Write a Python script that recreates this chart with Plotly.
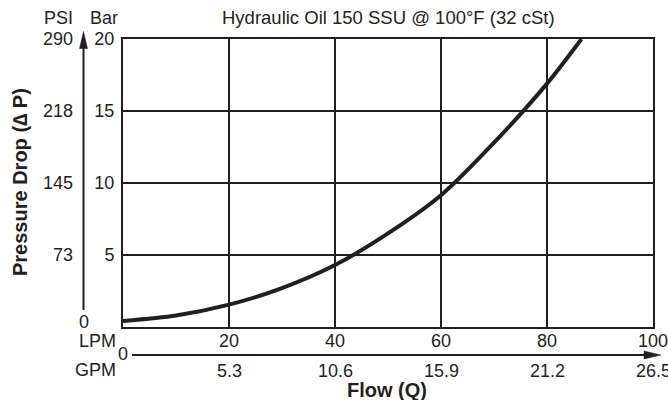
import plotly.graph_objects as go

# ---- data ----
flow_lpm = [0, 10, 20, 30, 40, 50, 60, 70, 80, 86.5]
pressure_bar = [0.42, 0.8, 1.55, 2.7, 4.3, 6.5, 9.15, 12.8, 16.9, 20]

lpm_ticks = [20, 40, 60, 80, 100]
lpm_labels = ["20", "40", "60", "80", "100"]
gpm_labels = ["5.3", "10.6", "15.9", "21.2", "26.5"]
bar_ticks = [5, 10, 15, 20]
bar_labels = ["5", "10", "15", "20"]
psi_labels = ["73", "145", "218", "290"]

title_text = "Hydraulic Oil 150 SSU @ 100°F (32 cSt)"

# ---- layout geometry (pixels) ----
W, H = 668, 400
L, R, T, B = 123, 15, 39, 73
PW, PH = W - L - R, H - T - B
INK = "#231f20"
FONT = "Liberation Sans, Arial, Helvetica, sans-serif"
FS = 18


def px(x):
    return (x - L) / PW


def py(y):
    return (H - B - y) / PH


def label(text, x, y, xanchor="center", size=FS, xref="paper", yref="paper", angle=0):
    return dict(text=text, xref=xref, yref=yref, x=x, y=y, textangle=angle,
                xanchor=xanchor, yanchor="middle", showarrow=False,
                font=dict(size=size, color=INK, family=FONT))


fig = go.Figure()
fig.add_trace(go.Scatter(
    x=flow_lpm, y=pressure_bar, mode="lines",
    line=dict(color=INK, width=4, shape="spline", smoothing=0.8),
    hoverinfo="skip", showlegend=False,
))

annotations = [
    label(title_text, px(388), py(18), size=18.5),
    label("PSI", px(58), py(18)),
    label("Bar", px(104), py(18)),
    label("0", px(84), py(321.5)),
    label("LPM", px(118), py(340.5), xanchor="right"),
    label("GPM", px(118), py(370), xanchor="right"),
    label("0", px(123), py(354)),
    label("<b>Flow (Q)</b>", px(387), py(390), size=20),
    label("<b>Pressure Drop (\u2206 P)</b>", px(20), py(182), size=20, angle=-90),
]
for v, t in zip(bar_ticks, psi_labels):
    annotations.append(label(t, px(75), v, xanchor="right", yref="y"))
for v, t in zip(lpm_ticks, lpm_labels):
    annotations.append(label(t, v, py(341), xref="x"))
for v, t in zip(lpm_ticks, gpm_labels):
    annotations.append(label(t, v, py(370.5), xref="x"))

shapes = [
    # PSI arrow
    dict(type="line", xref="paper", yref="paper", x0=px(83.5), x1=px(83.5), y0=py(310), y1=py(45),
         line=dict(color=INK, width=2)),
    dict(type="path", xref="paper", yref="paper",
         path=f"M{px(83.5)},{py(31.5)} L{px(79.5)},{py(48.5)} L{px(87.5)},{py(48.5)} Z",
         fillcolor=INK, line=dict(color=INK, width=0.5)),
    # GPM arrow
    dict(type="line", xref="paper", yref="paper", x0=px(132), x1=px(648), y0=py(355), y1=py(355),
         line=dict(color=INK, width=2)),
    dict(type="path", xref="paper", yref="paper",
         path=f"M{px(661)},{py(355)} L{px(644)},{py(351)} L{px(644)},{py(359)} Z",
         fillcolor=INK, line=dict(color=INK, width=0.5)),
]

fig.update_layout(
    width=W, height=H,
    margin=dict(l=L, r=R, t=T, b=B, pad=0),
    paper_bgcolor="white", plot_bgcolor="white",
    font=dict(family=FONT, size=FS, color=INK),
    annotations=annotations, shapes=shapes,
    showlegend=False,
)
fig.update_xaxes(range=[0, 100], tickvals=lpm_ticks, showticklabels=False,
                 showgrid=True, gridcolor=INK, gridwidth=1.5,
                 showline=True, mirror=True, linecolor=INK, linewidth=2,
                 zeroline=False, ticks="", fixedrange=True)
fig.update_yaxes(range=[0, 20], tickvals=bar_ticks, ticktext=bar_labels,
                 showgrid=True, gridcolor=INK, gridwidth=1.5,
                 showline=True, mirror=True, linecolor=INK, linewidth=2,
                 zeroline=False, ticks="", ticklabelstandoff=3,
                 tickfont=dict(size=FS, color=INK, family=FONT), fixedrange=True)

fig.write_html("out.html", config={"displayModeBar": False},
               post_script="document.body.style.margin='0';document.body.style.padding='0';")
